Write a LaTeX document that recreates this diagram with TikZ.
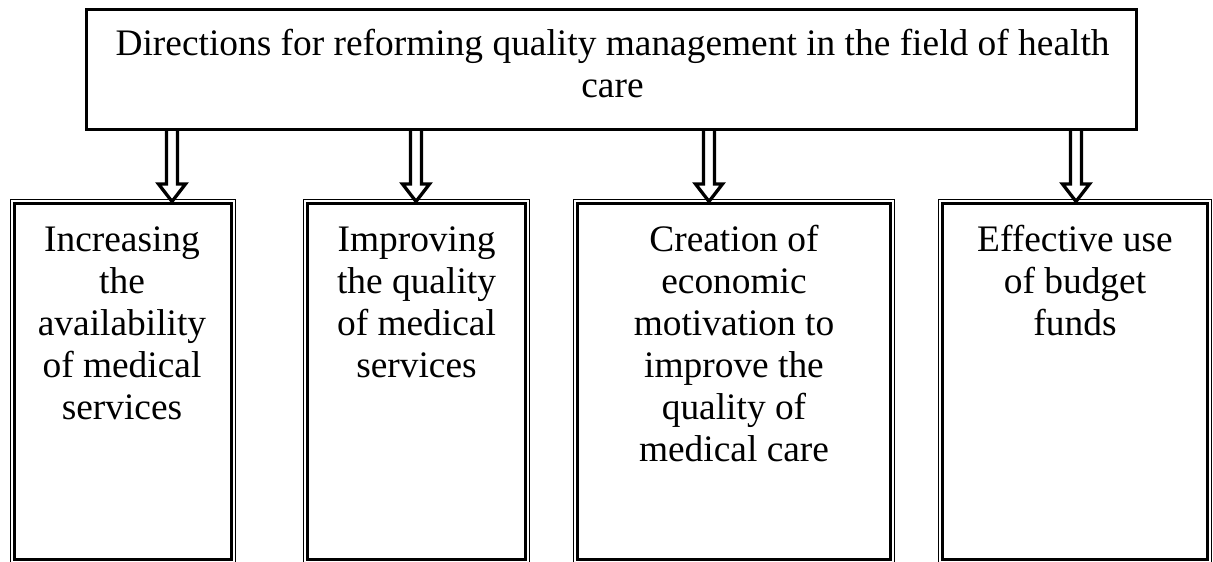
\documentclass[tikz,border=0pt]{standalone}
\usepackage{fontspec}
\setmainfont{Liberation Serif}
\begin{document}
\begin{tikzpicture}[x=1pt,y=-1pt,
  topbox/.style={draw,line width=3.4pt,inner sep=0pt,minimum width=1050pt,minimum height=119.8pt},
  outerbox/.style={draw,line width=1.6pt,inner sep=0pt,minimum height=363.5pt},
  innerline/.style={line width=3pt},
  label/.style={inner sep=0pt,anchor=base},
  hollowarrow/.style={line width=3.3pt,miter limit=10,line join=miter}]
\useasboundingbox (0,0) rectangle (1213,562);
\newcommand{\boxtext}[2]{\parbox[t]{#1}{\fontsize{37.4}{42}\selectfont\centering #2}}

% header box
\node[topbox] (top) at (611.7,69.4) {};
\node[label] (toptext) at (612.5,55) {\boxtext{1040pt}{Directions for reforming quality management in the field of health\\care}};

% four outcome boxes: thin outer frame, thick inner frame
\node[outerbox,minimum width=225pt] (b1) at (123,381.25) {};
\node[outerbox,minimum width=226pt] (b2) at (416.5,381.25) {};
\node[outerbox,minimum width=321pt] (b3) at (734,381.25) {};
\node[outerbox,minimum width=273pt] (b4) at (1075,381.25) {};
\foreach \b in {b1,b2,b3,b4}{
  \draw[innerline] ([xshift=4.5pt,yshift=-4.5pt]\b.north west) rectangle ([xshift=-4.5pt,yshift=4.5pt]\b.south east);
}

\node[label] (t1) at (122,251) {\boxtext{215pt}{Increasing\\the\\availability\\of medical\\services}};
\node[label] (t2) at (416.5,251) {\boxtext{215pt}{Improving\\the quality\\of medical\\services}};
\node[label] (t3) at (734,251) {\boxtext{300pt}{Creation of\\economic\\motivation to\\improve the\\quality of\\medical care}};
\node[label] (t4) at (1075,251) {\boxtext{260pt}{Effective use\\of budget\\funds}};

% hollow double-shaft arrows from the header to each box
\foreach \x/\b [count=\i] in {172/b1,416/b2,709/b3,1076/b4}{
  \coordinate (s\i) at (\x,129.3);
  \coordinate (e\i) at (\x,201.5);
  \draw[hollowarrow] ([xshift=-5.5pt]s\i) -- ([xshift=-5.5pt,yshift=17.5pt]e\i)
    -- ([xshift=-13.5pt,yshift=17.5pt]e\i) -- (e\i)
    -- ([xshift=13.5pt,yshift=17.5pt]e\i) -- ([xshift=5.5pt,yshift=17.5pt]e\i)
    -- ([xshift=5.5pt]s\i);
}
\end{tikzpicture}
\end{document}
